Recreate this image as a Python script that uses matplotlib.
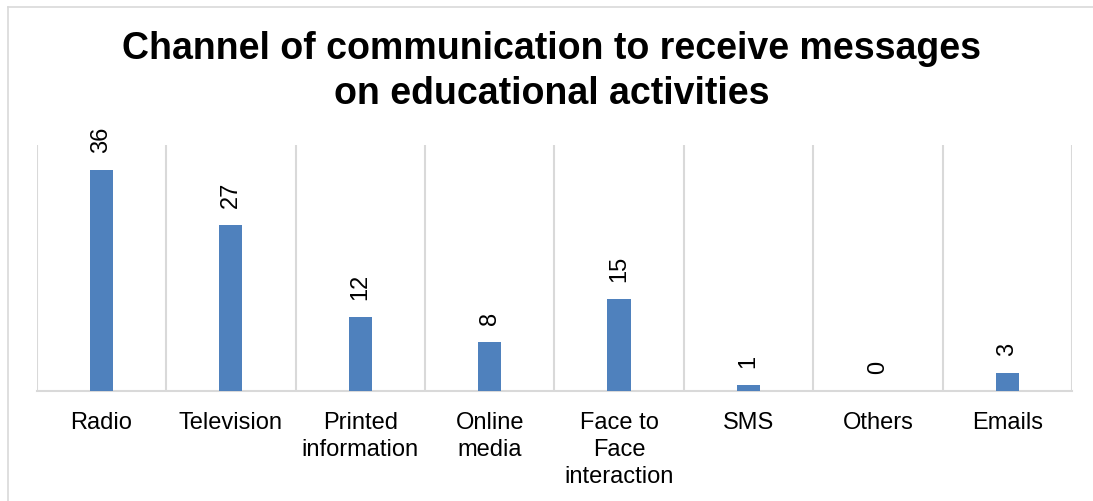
import matplotlib.pyplot as plt
from matplotlib.lines import Line2D

categories = ['Radio', 'Television', 'Printed\ninformation', 'Online\nmedia',
              'Face to\nFace\ninteraction', 'SMS', 'Others', 'Emails']
counts = [36, 27, 12, 8, 15, 1, 0, 3]

plt.rcParams['font.family'] = ['Liberation Sans', 'DejaVu Sans']

fig = plt.figure(figsize=(10.93, 5.02), dpi=100)

# chart frame: top and left edges
fx, fy = 8 / 1093, (502 - 7.5) / 502
fig.add_artist(Line2D([fx, 1.0], [fy, fy], transform=fig.transFigure,
                      color='#D9D9D9', linewidth=1.2))
fig.add_artist(Line2D([fx, fx], [0.0, fy], transform=fig.transFigure,
                      color='#D9D9D9', linewidth=1.2))

ax = fig.add_axes([36.7 / 1093, (502 - 392.3) / 502,
                   (1072 - 36.7) / 1093, (392.3 - 146) / 502])

x = range(len(categories))
bars = ax.bar(x, counts, width=0.18, color='#4F81BD', zorder=3)

# value labels, rotated like the source chart
for b, v in zip(bars, counts):
    ax.annotate(str(v), (b.get_x() + b.get_width() / 2, b.get_height()),
                xytext=(0, 13), textcoords='offset points',
                rotation=90, ha='center', va='bottom', fontsize=17)

ax.set_xlim(-0.5, len(categories) - 0.5)
ax.set_ylim(0, 40)
ax.set_yticks([])
ax.set_xticks(list(x))
ax.set_xticklabels(categories, fontsize=17, linespacing=1.3)
ax.tick_params(axis='x', length=0, pad=14)

# vertical separators between categories
for xb in [i - 0.5 for i in range(len(categories) + 1)]:
    ax.axvline(xb, color='#D9D9D9', linewidth=1.5, zorder=1)

for side in ['top', 'left', 'right']:
    ax.spines[side].set_visible(False)
ax.spines['bottom'].set_color('#D9D9D9')
ax.spines['bottom'].set_linewidth(1.5)

fig.text(0.505, (502 - 71.5) / 502,
         'Channel of communication to receive messages\non educational activities',
         ha='center', va='center', fontsize=27, fontweight='bold', linespacing=1.3)

fig.savefig('out.png', dpi=100)
